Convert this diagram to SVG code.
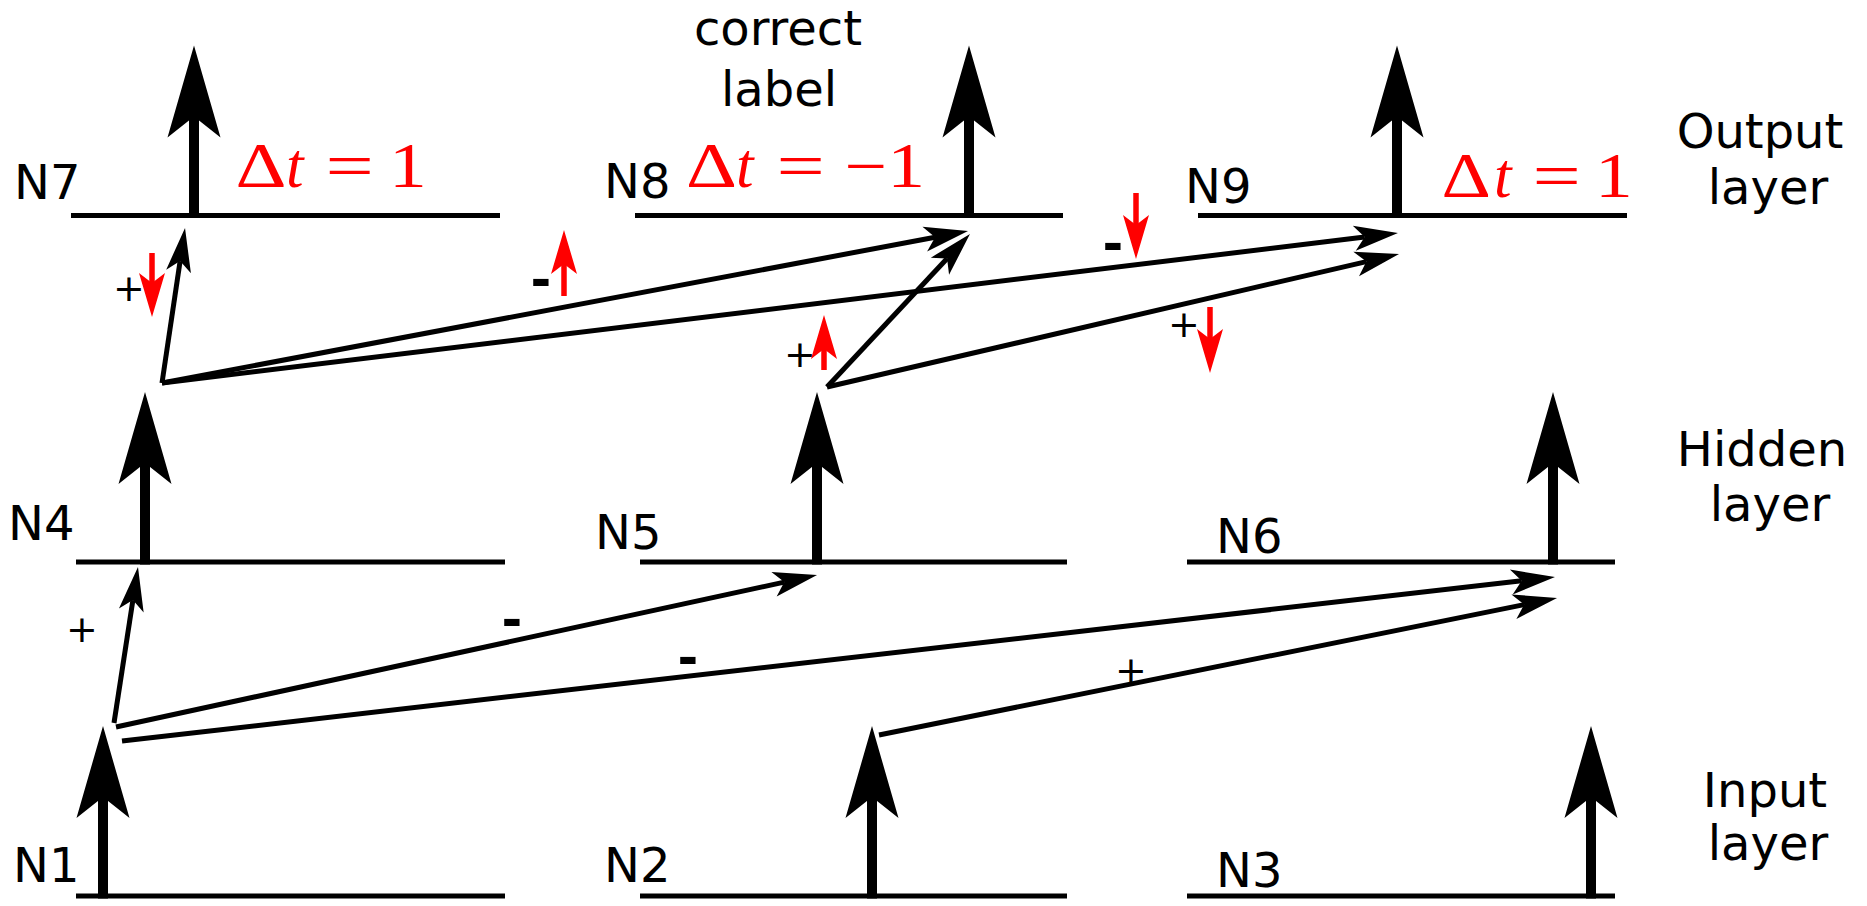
<svg xmlns="http://www.w3.org/2000/svg" xmlns:xlink="http://www.w3.org/1999/xlink" width="1867" height="906" viewBox="0 0 1867 906">
<style>
.axis{stroke:#000;stroke-width:5;fill:none}
.lbl{font-family:"DejaVu Sans",sans-serif;font-size:48px;fill:#000}
.conn{stroke:#000;stroke-width:5;fill:none;marker-end:url(#ah)}
.red{stroke:#f00;stroke-width:5.5;fill:none;marker-end:url(#rh)}
.sign{font-family:"DejaVu Sans",sans-serif;font-size:38px;fill:#000;text-anchor:middle}
.minus{font-family:"DejaVu Sans",sans-serif;font-size:50px;font-weight:bold;fill:#000;text-anchor:middle}
.dt{font-family:"Liberation Serif","Times New Roman",serif;font-size:63px;fill:#f00}
.it{font-style:italic}
</style>
<defs>
<g id="spike">
<rect x="-5" y="-100" width="10" height="102.5" fill="#000"/>
<polygon points="0,-170 26.5,-78 0,-99 -26.5,-78" fill="#000"/>
</g>
<marker id="ah" viewBox="-11 -13 45 26" refX="0" refY="0" markerWidth="45" markerHeight="26" markerUnits="userSpaceOnUse" orient="auto" overflow="visible">
<path d="M33.5,0 L-10.5,-12.5 L0,0 L-10.5,12.5 Z" fill="#000"/>
</marker>
<marker id="rh" viewBox="-11 -14 46 28" refX="0" refY="0" markerWidth="46" markerHeight="28" markerUnits="userSpaceOnUse" orient="auto" overflow="visible">
<path d="M34,0 L-10,-13 L0,0 L-10,13 Z" fill="#f00"/>
</marker>
</defs>

<!-- Output layer -->
<g id="N7">
<line class="axis" x1="71" y1="215.5" x2="500" y2="215.5"/>
<use xlink:href="#spike" x="194" y="215.5"/>
<text class="lbl" x="14" y="199">N7</text>
<g class="dt">
<text transform="translate(235.5,187) scale(1.26,1)">Δ</text>
<text class="it" x="286" y="187">t</text>
<text transform="translate(325.4,187) scale(1.36,1)">=</text>
<text transform="translate(389,187) scale(1.2,1)">1</text>
</g>
</g>
<g id="N8">
<line class="axis" x1="635" y1="215.5" x2="1063" y2="215.5"/>
<use xlink:href="#spike" x="969" y="215.5"/>
<text class="lbl" x="604" y="198">N8</text>
<g class="dt">
<text transform="translate(686,187) scale(1.26,1)">Δ</text>
<text class="it" x="736" y="187">t</text>
<text transform="translate(776.4,187) scale(1.36,1)">=</text>
<text transform="translate(844.5,187) scale(1.2,1)">−1</text>
</g>
</g>
<g id="N9">
<line class="axis" x1="1198" y1="215.5" x2="1627" y2="215.5"/>
<use xlink:href="#spike" x="1397" y="215.5"/>
<text class="lbl" x="1185" y="203">N9</text>
<g class="dt">
<text transform="translate(1441.5,197) scale(1.22,1)">Δ</text>
<text class="it" x="1494" y="197">t</text>
<text transform="translate(1532.4,197) scale(1.36,1)">=</text>
<text transform="translate(1595,197) scale(1.2,1)">1</text>
</g>
</g>

<!-- Hidden layer -->
<g id="N4">
<line class="axis" x1="76" y1="562" x2="505" y2="562"/>
<use xlink:href="#spike" x="145" y="562"/>
<text class="lbl" x="8" y="540">N4</text>
</g>
<g id="N5">
<line class="axis" x1="640" y1="562" x2="1067" y2="562"/>
<use xlink:href="#spike" x="817" y="562"/>
<text class="lbl" x="595" y="549">N5</text>
</g>
<g id="N6">
<line class="axis" x1="1187" y1="562" x2="1615" y2="562"/>
<use xlink:href="#spike" x="1553" y="562"/>
<text class="lbl" x="1216" y="553">N6</text>
</g>

<!-- Input layer -->
<g id="N1">
<line class="axis" x1="76" y1="896" x2="505" y2="896"/>
<use xlink:href="#spike" x="103" y="896"/>
<text class="lbl" x="13" y="882">N1</text>
</g>
<g id="N2">
<line class="axis" x1="640" y1="896" x2="1067" y2="896"/>
<use xlink:href="#spike" x="872" y="896"/>
<text class="lbl" x="604" y="882">N2</text>
</g>
<g id="N3">
<line class="axis" x1="1187" y1="896" x2="1615" y2="896"/>
<use xlink:href="#spike" x="1591" y="896"/>
<text class="lbl" x="1216" y="887">N3</text>
</g>

<!-- labels -->
<g id="correct-label">
<text class="lbl" x="778" y="45" text-anchor="middle">correct</text>
<text class="lbl" x="779" y="106" text-anchor="middle">label</text>
</g>
<g id="layer-labels">
<text class="lbl" x="1760" y="148" text-anchor="middle">Output</text>
<text class="lbl" x="1768" y="204" text-anchor="middle">layer</text>
<text class="lbl" x="1762" y="466" text-anchor="middle">Hidden</text>
<text class="lbl" x="1770" y="521" text-anchor="middle">layer</text>
<text class="lbl" x="1765" y="807" text-anchor="middle">Input</text>
<text class="lbl" x="1768" y="860" text-anchor="middle">layer</text>
</g>

<!-- connectors -->
<g id="connectors">
<line class="conn" x1="162" y1="383" x2="180.1" y2="261.1"/>
<line class="conn" x1="162" y1="383" x2="935.1" y2="237.2"/>
<line class="conn" x1="162" y1="383" x2="1364.7" y2="237.0"/>
<line class="conn" x1="827" y1="387" x2="947.1" y2="258.5"/>
<line class="conn" x1="827" y1="387" x2="1366.4" y2="261.6"/>
<line class="conn" x1="114" y1="723" x2="132.9" y2="600.1"/>
<line class="conn" x1="116" y1="727" x2="784.3" y2="582.1"/>
<line class="conn" x1="122" y1="741" x2="1521.7" y2="580.8"/>
<line class="conn" x1="879" y1="735" x2="1524.2" y2="604.6"/>
</g>

<!-- signs -->
<g id="signs">
<text class="sign" x="129" y="301">+</text>
<text class="sign" x="800" y="367">+</text>
<text class="sign" x="1184" y="337">+</text>
<text class="sign" x="82" y="642">+</text>
<text class="sign" x="1131" y="683">+</text>
<text class="minus" x="541" y="297">-</text>
<text class="minus" x="1113" y="261">-</text>
<text class="minus" x="512" y="637">-</text>
<text class="minus" x="688" y="675">-</text>
</g>

<!-- red change arrows -->
<g id="red-arrows">
<line class="red" x1="152" y1="253" x2="152" y2="283"/>
<line class="red" x1="564" y1="296" x2="564" y2="264"/>
<line class="red" x1="824" y1="370" x2="824" y2="349"/>
<line class="red" x1="1136" y1="193" x2="1136" y2="225"/>
<line class="red" x1="1210" y1="307" x2="1210" y2="339"/>
</g>
</svg>
